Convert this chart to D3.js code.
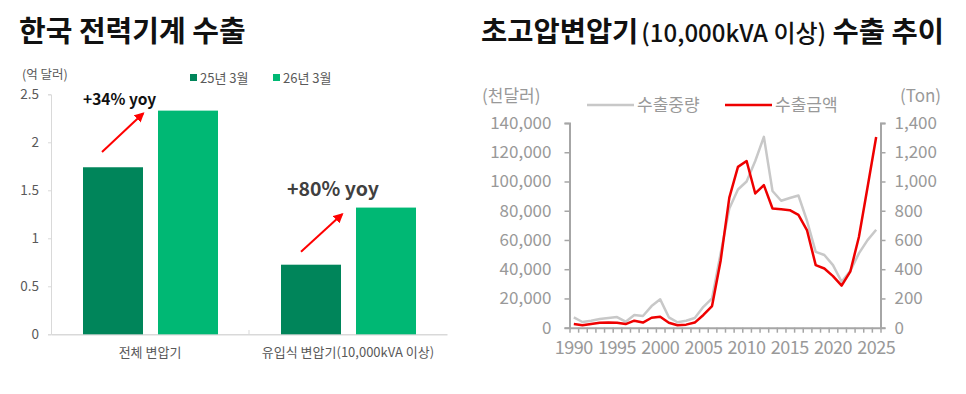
<!DOCTYPE html>
<html>
<head>
<meta charset="utf-8">
<script src="https://cdn.jsdelivr.net/npm/d3@7"></script>
<style>
  body { margin: 0; background: #fff; }
  svg { display: block; font-family: "Noto Sans CJK KR", "Noto Sans", sans-serif; }
</style>
</head>
<body>
<div id="chart"></div>
<script>
// left chart: 한국 전력기계 수출 (억 달러)
var barCats = ["전체 변압기", "유입식 변압기(10,000kVA 이상)"]
var barSeries = ["25년 3월", "26년 3월"]
var bars2025 = [1.74, 0.725]
var bars2026 = [2.33, 1.32]
var barTicks = [0, 0.5, 1, 1.5, 2, 2.5]
var yoyLabels = ["+34% yoy", "+80% yoy"]

// right chart: 초고압변압기 수출 추이
var years = [1990, 1991, 1992, 1993, 1994, 1995, 1996, 1997, 1998, 1999,
             2000, 2001, 2002, 2003, 2004, 2005, 2006, 2007, 2008, 2009,
             2010, 2011, 2012, 2013, 2014, 2015, 2016, 2017, 2018, 2019,
             2020, 2021, 2022, 2023, 2024, 2025]
var exportAmount = [2500, 1700, 2500, 3400, 3500, 3400, 2500, 4800, 3500, 6800,
                    7500, 3400, 1700, 2100, 3500, 8700, 14800, 46000, 89000, 110000,
                    114000, 91800, 97500, 81500, 81000, 80400, 77200, 66500, 42800, 40500,
                    35300, 28800, 38300, 62000, 96000, 130400]
var exportWeight = [71, 39, 48, 59, 66, 73, 41, 87, 80, 148,
                    194, 71, 37, 48, 66, 143, 200, 510, 815, 945,
                    1000, 1140, 1305, 935, 868, 887, 904, 730, 519, 497,
                    428, 314, 388, 508, 599, 670]
var leftTicks = [0, 20000, 40000, 60000, 80000, 100000, 120000, 140000]
var rightTicks = [0, 200, 400, 600, 800, 1000, 1200, 1400]
var yearLabels = [1990, 1995, 2000, 2005, 2010, 2015, 2020, 2025]

var svg = d3.select('#chart').append('svg')
            .attr('width', 966)
            .attr('height', 394)

var defs = svg.append('defs')
defs.append('marker')
    .attr('id', 'arrow')
    .attr('viewBox', '0 0 10 10')
    .attr('refX', 8).attr('refY', 5)
    .attr('markerWidth', 5).attr('markerHeight', 5)
    .attr('orient', 'auto')
    .append('path')
    .attr('d', 'M0,0 L10,5 L0,10 z')
    .attr('fill', '#ff0000')

// ---------- left bar chart ----------
svg.append('text')
   .attr('x', 19).attr('y', 42)
   .attr('font-size', 29).attr('font-weight', 700)
   .attr('fill', '#111')
   .text('한국 전력기계 수출')

var y = d3.scaleLinear().domain([0, 2.5]).range([334.3, 94.3])
var x0 = d3.scaleBand().domain(barCats).range([51, 447])
var x1 = d3.scaleBand().domain(barSeries).range([32, 167]).paddingInner(0.2)
var barColor = d3.scaleOrdinal().domain(barSeries).range(["#00855a", "#00b874"])

svg.append('text')
   .attr('x', 22).attr('y', 79)
   .attr('font-size', 12.5).attr('fill', '#595959')
   .text('(억 달러)')

var yAxisL = svg.append('g')
   .attr('transform', 'translate(51,0)')
   .call(d3.axisLeft(y).tickValues(barTicks).tickSize(3).tickFormat(d3.format('')))
yAxisL.select('.domain').attr('stroke', '#d9d9d9')
yAxisL.selectAll('.tick line').attr('stroke', '#d9d9d9')
yAxisL.selectAll('.tick text').attr('x', -12)
      .attr('font-size', 13.5).attr('fill', '#595959')
      .attr('font-family', '"Noto Sans CJK KR", sans-serif')

var xAxisL = svg.append('g')
   .attr('transform', 'translate(0,334.3)')
   .call(d3.axisBottom(x0).tickSize(0))
xAxisL.select('.domain').attr('stroke', '#d9d9d9').attr('stroke-width', 1.5)
xAxisL.selectAll('.tick text').attr('y', 13)
      .attr('font-size', 13).attr('fill', '#595959')
      .attr('font-family', '"Noto Sans CJK KR", sans-serif')
svg.append('line')
   .attr('x1', x0.range()[0] + x0.step()).attr('x2', x0.range()[0] + x0.step())
   .attr('y1', 330).attr('y2', 334)
   .attr('stroke', '#d9d9d9')

var barData = barCats.map(function(c, i) {
  return { cat: c, values: [{ s: barSeries[0], v: bars2025[i] }, { s: barSeries[1], v: bars2026[i] }] }
})

var grp = svg.selectAll('.grp')
   .data(barData)
   .enter().append('g')
   .attr('class', 'grp')
   .attr('transform', function(d) { return 'translate(' + x0(d.cat) + ',0)' })

grp.selectAll('rect')
   .data(function(d) { return d.values })
   .enter().append('rect')
   .attr('x', function(d) { return x1(d.s) })
   .attr('width', x1.bandwidth())
   .attr('y', function(d) { return y(d.v) })
   .attr('height', function(d) { return y(0) - y(d.v) })
   .attr('fill', function(d) { return barColor(d.s) })

// legend
var legL = svg.append('g').attr('font-size', 13).attr('fill', '#595959')
barSeries.forEach(function(s, i) {
  var lx = 190 + i * 83
  legL.append('rect').attr('x', lx).attr('y', 74).attr('width', 7).attr('height', 7)
      .attr('fill', barColor(s))
  legL.append('text').attr('x', lx + 10).attr('y', 82.5).text(s)
})

// yoy annotations
svg.append('text')
   .attr('x', 83).attr('y', 105)
   .attr('font-size', 15.5).attr('font-weight', 700).attr('fill', '#111')
   .text(yoyLabels[0])
svg.append('line')
   .attr('x1', x0(barCats[0]) + x1(barSeries[0]) + 19).attr('y1', y(1.90))
   .attr('x2', x0(barCats[0]) + x1(barSeries[1]) - 15).attr('y2', y(2.30))
   .attr('stroke', '#ff0000').attr('stroke-width', 2)
   .attr('marker-end', 'url(#arrow)')

svg.append('text')
   .attr('x', 287).attr('y', 196)
   .attr('font-size', 19.5).attr('font-weight', 700).attr('fill', '#404040')
   .text(yoyLabels[1])
svg.append('line')
   .attr('x1', x0(barCats[1]) + x1(barSeries[0]) + 20).attr('y1', y(0.86))
   .attr('x2', x0(barCats[1]) + x1(barSeries[1]) - 14).attr('y2', y(1.25))
   .attr('stroke', '#ff0000').attr('stroke-width', 2)
   .attr('marker-end', 'url(#arrow)')

// ---------- right line chart ----------
var title2 = svg.append('text')
   .attr('x', 481).attr('y', 42)
   .attr('font-weight', 700).attr('fill', '#111')
title2.append('tspan').attr('font-size', 28.5).text('초고압변압기')
title2.append('tspan').attr('font-size', 24).attr('font-weight', 500).attr('dx', 3).text('(10,000kVA 이상)')
title2.append('tspan').attr('font-size', 28.5).text(' 수출 추이')

var xr = d3.scaleLinear().domain([1989.5, 2025.5]).range([569.5, 880.5])
var yl = d3.scaleLinear().domain([0, 140000]).range([327.7, 123])
var yr = d3.scaleLinear().domain([0, 1400]).range([327.7, 123])
var axisGray = '#a6a6a6'

function styleAxis(g) {
  g.select('.domain').attr('stroke', axisGray).attr('stroke-width', 2)
  g.selectAll('.tick line').attr('stroke', axisGray).attr('stroke-width', 1.5)
  g.selectAll('.tick text').attr('fill', '#999').attr('font-size', 17)
   .attr('font-family', '"Noto Sans CJK KR", sans-serif')
}

var gl = svg.append('g')
   .attr('transform', 'translate(569.5,0)')
   .call(d3.axisLeft(yl).tickValues(leftTicks).tickSize(5).tickSizeOuter(5).tickFormat(d3.format(',')))
styleAxis(gl)
gl.selectAll('.tick text').attr('x', -18)

var gr = svg.append('g')
   .attr('transform', 'translate(880.5,0)')
   .call(d3.axisRight(yr).tickValues(rightTicks).tickSize(5).tickSizeOuter(5).tickFormat(d3.format(',')))
styleAxis(gr)
gr.selectAll('.tick text').attr('x', 14)

var boundaries = years.map(function(d) { return d - 0.5 }).concat([years[years.length - 1] + 0.5])
var gb = svg.append('g')
   .attr('transform', 'translate(0,327.7)')
   .call(d3.axisBottom(xr).tickValues(boundaries).tickSize(5).tickSizeOuter(0).tickFormat(''))
styleAxis(gb)

svg.append('g')
   .selectAll('text')
   .data(yearLabels)
   .enter().append('text')
   .attr('x', function(d) { return xr(d) })
   .attr('y', 354)
   .attr('text-anchor', 'middle')
   .attr('font-size', 18).attr('fill', '#999')
   .attr('letter-spacing', -0.5)
   .text(function(d) { return d })

svg.append('text').attr('x', 482).attr('y', 102)
   .attr('font-size', 17).attr('fill', '#999').text('(천달러)')
svg.append('text').attr('x', 900).attr('y', 102)
   .attr('font-size', 17).attr('fill', '#999').text('(Ton)')

var lineW = d3.line()
   .x(function(d, i) { return xr(years[i]) })
   .y(function(d) { return yr(d) })
var lineA = d3.line()
   .x(function(d, i) { return xr(years[i]) })
   .y(function(d) { return yl(d) })

svg.append('path')
   .datum(exportWeight)
   .attr('d', lineW)
   .attr('fill', 'none').attr('stroke', '#c8c8c8').attr('stroke-width', 2.5)
   .attr('stroke-linejoin', 'round')

svg.append('path')
   .datum(exportAmount)
   .attr('d', lineA)
   .attr('fill', 'none').attr('stroke', '#ee0000').attr('stroke-width', 2.5)
   .attr('stroke-linejoin', 'round')

// legend
var legR = [{ name: '수출중량', color: '#c8c8c8', x: 587 }, { name: '수출금액', color: '#ee0000', x: 725 }]
legR.forEach(function(d) {
  svg.append('line').attr('x1', d.x).attr('x2', d.x + 47).attr('y1', 105).attr('y2', 105)
     .attr('stroke', d.color).attr('stroke-width', 2.5)
  svg.append('text').attr('x', d.x + 50).attr('y', 111)
     .attr('font-size', 17).attr('fill', '#999').text(d.name)
})
</script>
</body>
</html>
